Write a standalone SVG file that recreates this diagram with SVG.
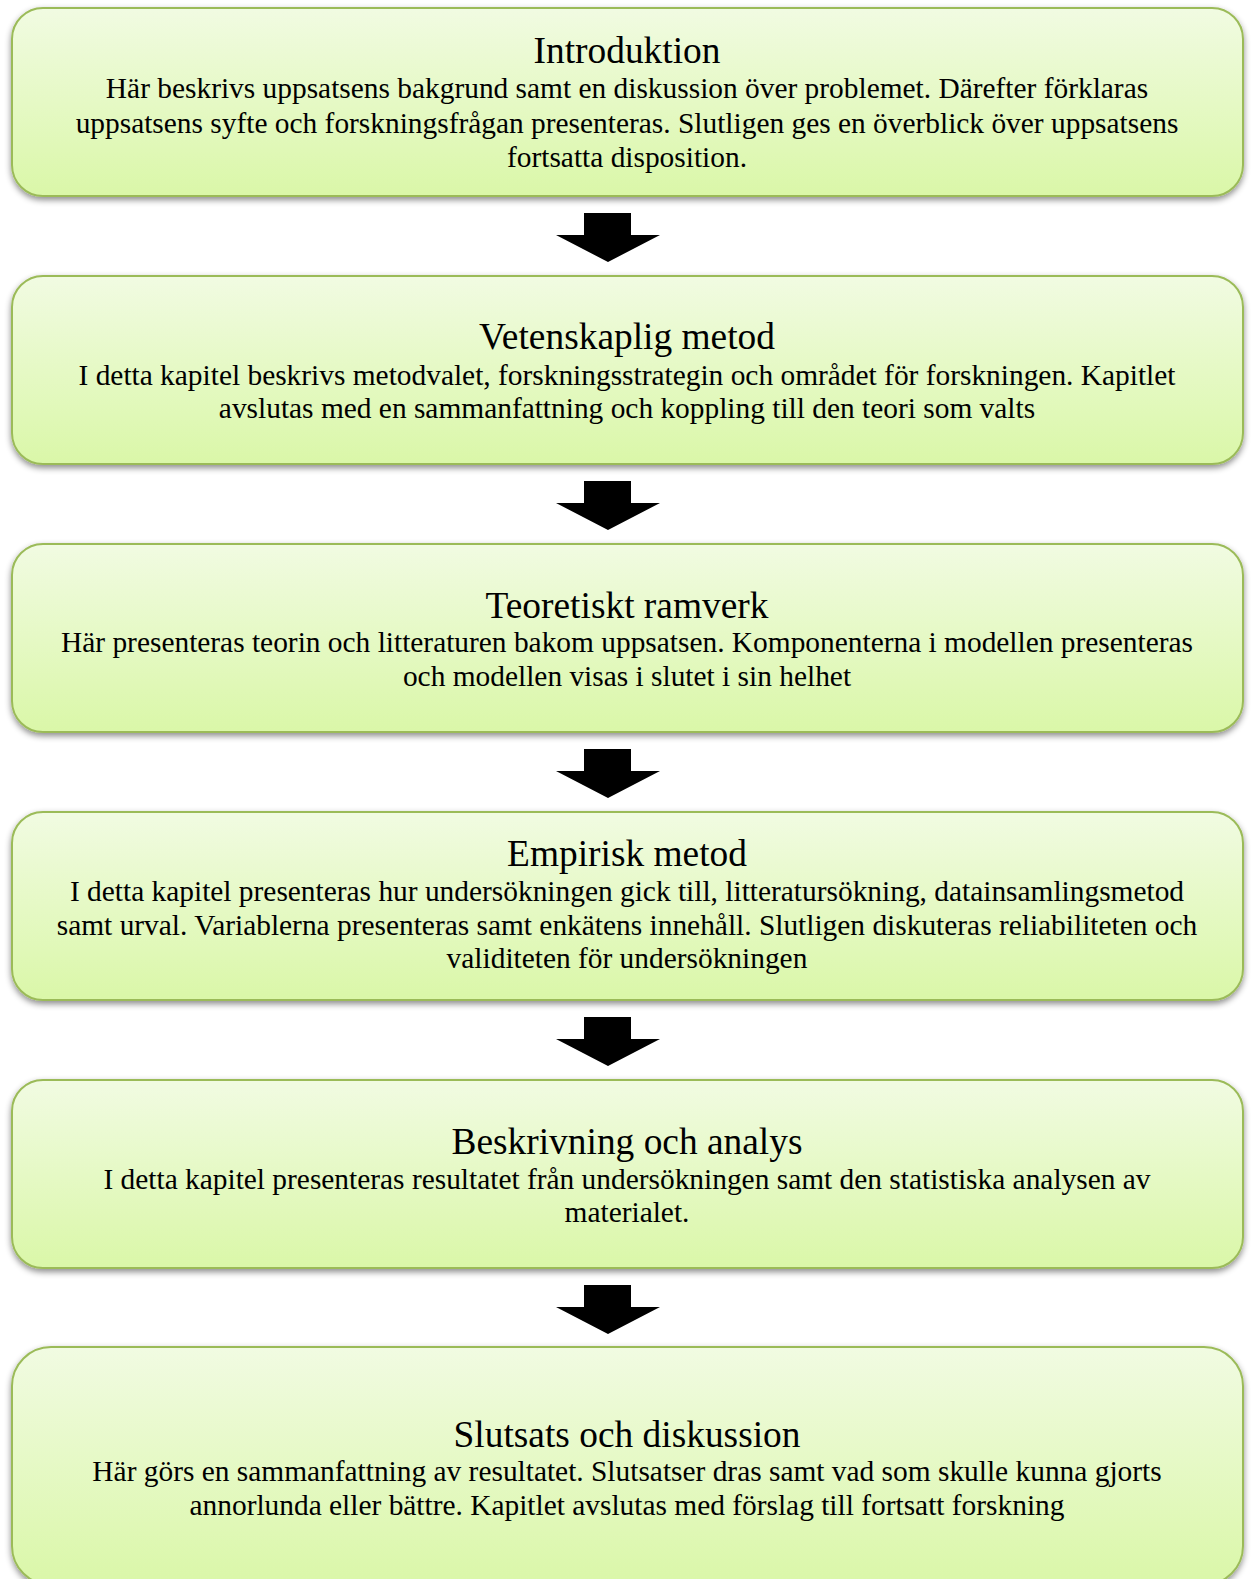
<svg xmlns="http://www.w3.org/2000/svg" width="1253" height="1579" viewBox="0 0 1253 1579">
  <defs>
    <linearGradient id="boxFill" x1="0" y1="0" x2="0" y2="1">
      <stop offset="0" stop-color="#f1fbe2"/>
      <stop offset="1" stop-color="#daf7a8"/>
    </linearGradient>
    <filter id="shadow" x="-5%" y="-10%" width="110%" height="125%">
      <feDropShadow dx="0" dy="3" stdDeviation="3" flood-color="#000" flood-opacity="0.45"/>
    </filter>
    <path id="arrowShape" d="M584 0 H631 V22 H660 L608 49 L556 22 H584 Z"/>
  </defs>
  <style>
    .box { fill: url(#boxFill); stroke: #9bbb59; stroke-width: 2; filter: url(#shadow); }
    .title { font-family: "Liberation Serif", "Times New Roman", serif; font-size: 37.4px; fill: #000; text-anchor: middle; }
    .body { font-family: "Liberation Serif", "Times New Roman", serif; font-size: 29.4px; fill: #000; text-anchor: middle; }
    .arrow { fill: #000; }
  </style>
  <rect width="1253" height="1579" fill="#fff"/>

  <!-- chapter boxes -->
  <g id="introduktion">
    <rect class="box" x="12" y="8" width="1231" height="188" rx="31" ry="31"/>
    <text class="title" x="627" y="63">Introduktion</text>
    <text class="body" x="627" y="98">Här beskrivs uppsatsens bakgrund samt en diskussion över problemet. Därefter förklaras</text>
    <text class="body" x="627" y="133">uppsatsens syfte och forskningsfrågan presenteras. Slutligen ges en överblick över uppsatsens</text>
    <text class="body" x="627" y="167">fortsatta disposition.</text>
  </g>

  <g id="vetenskaplig-metod">
    <rect class="box" x="12" y="276" width="1231" height="188" rx="31" ry="31"/>
    <text class="title" x="627" y="349">Vetenskaplig metod</text>
    <text class="body" x="627" y="385">I detta kapitel beskrivs metodvalet, forskningsstrategin och området för forskningen. Kapitlet</text>
    <text class="body" x="627" y="418">avslutas med en sammanfattning och koppling till den teori som valts</text>
  </g>

  <g id="teoretiskt-ramverk">
    <rect class="box" x="12" y="544" width="1231" height="188" rx="31" ry="31"/>
    <text class="title" x="627" y="618">Teoretiskt ramverk</text>
    <text class="body" x="627" y="652">Här presenteras teorin och litteraturen bakom uppsatsen. Komponenterna i modellen presenteras</text>
    <text class="body" x="627" y="686">och modellen visas i slutet i sin helhet</text>
  </g>

  <g id="empirisk-metod">
    <rect class="box" x="12" y="812" width="1231" height="188" rx="31" ry="31"/>
    <text class="title" x="627" y="866">Empirisk metod</text>
    <text class="body" x="627" y="901">I detta kapitel presenteras hur undersökningen gick till, litteratursökning, datainsamlingsmetod</text>
    <text class="body" x="627" y="935">samt urval. Variablerna presenteras samt enkätens innehåll. Slutligen diskuteras reliabiliteten och</text>
    <text class="body" x="627" y="968">validiteten för undersökningen</text>
  </g>

  <g id="beskrivning-och-analys">
    <rect class="box" x="12" y="1080" width="1231" height="188" rx="31" ry="31"/>
    <text class="title" x="627" y="1154">Beskrivning och analys</text>
    <text class="body" x="627" y="1189">I detta kapitel presenteras resultatet från undersökningen samt den statistiska analysen av</text>
    <text class="body" x="627" y="1222">materialet.</text>
  </g>

  <g id="slutsats-och-diskussion">
    <rect class="box" x="12" y="1347" width="1231" height="238" rx="39" ry="39"/>
    <text class="title" x="627" y="1447">Slutsats och diskussion</text>
    <text class="body" x="627" y="1481">Här görs en sammanfattning av resultatet. Slutsatser dras samt vad som skulle kunna gjorts</text>
    <text class="body" x="627" y="1515">annorlunda eller bättre. Kapitlet avslutas med förslag till fortsatt forskning</text>
  </g>

  <!-- connectors between chapters -->
  <g id="connectors" class="arrow">
    <use href="#arrowShape" y="213"/>
    <use href="#arrowShape" y="481"/>
    <use href="#arrowShape" y="749"/>
    <use href="#arrowShape" y="1017"/>
    <use href="#arrowShape" y="1285"/>
  </g>
</svg>
